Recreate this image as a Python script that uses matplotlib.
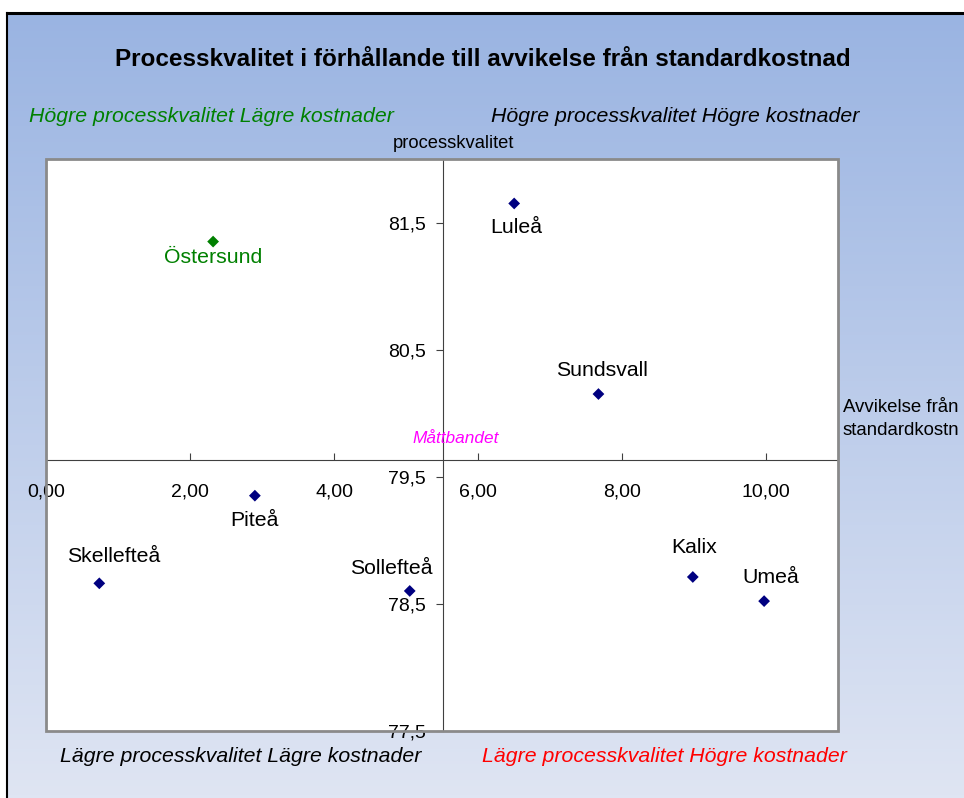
"""Quadrant scatter: process quality vs. deviation from standard cost."""
import matplotlib
matplotlib.use("Agg")
import matplotlib.pyplot as plt
import numpy as np
from matplotlib.colors import LinearSegmentedColormap
from matplotlib.patches import Rectangle

plt.rcParams["font.family"] = ["Liberation Sans", "DejaVu Sans"]

# data
cities = ["Östersund", "Luleå", "Sundsvall", "Piteå", "Skellefteå",
          "Sollefteå", "Kalix", "Umeå"]
cost_dev = [2.32, 6.50, 7.67, 2.90, 0.74, 5.05, 8.98, 9.97]
quality = [81.35, 81.65, 80.15, 79.35, 78.66, 78.60, 78.71, 78.52]
cross_x = 5.51   # Måttbandet (axis crossing)
cross_y = 79.63
x_ticks = [0, 2, 4, 6, 8, 10]
y_ticks = [77.5, 78.5, 79.5, 80.5, 81.5]

# label placement (pixel offsets from the marker)
label_off = {
    "Östersund": (0, -16), "Luleå": (2, -24), "Sundsvall": (4, 24),
    "Piteå": (0, -25), "Skellefteå": (14, 27), "Sollefteå": (-18, 22),
    "Kalix": (1, 29), "Umeå": (7, 24),
}

W, H = 964, 798
fig = plt.figure(figsize=(W / 100, H / 100), dpi=100)
fig.patch.set_facecolor("white")


def fx(px):
    return px / W


def fy(py):
    return 1 - py / H


# gradient chart area with black top/left border
bg = fig.add_axes([fx(7), 0, 1 - fx(7), fy(13)])
cmap = LinearSegmentedColormap.from_list("bg", ["#9ab4e2", "#dfe5f3"])
bg.imshow(np.linspace(0, 1, 256).reshape(-1, 1), aspect="auto", cmap=cmap,
          extent=[0, 1, 0, 1])
bg.set_xlim(0, 1)
bg.set_ylim(0, 1)
bg.set_axis_off()
fig.add_artist(plt.Line2D([fx(7), 1], [fy(13), fy(13)], color="black", lw=2.2))
fig.add_artist(plt.Line2D([fx(7), fx(7)], [0, fy(13)], color="black", lw=1.5))

ax = fig.add_axes([fx(46), fy(730.7), fx(838.3 - 46), (730.7 - 159) / H])
ax.set_facecolor("white")
ax.set_xlim(0, 11)
ax.set_ylim(77.5, 82.0)

for s in ("top", "right"):
    ax.spines[s].set_visible(False)
ax.spines["left"].set_position(("data", cross_x))
ax.spines["bottom"].set_position(("data", cross_y))
ax.spines["left"].set_color("#404040")
ax.spines["bottom"].set_color("#404040")
ax.add_patch(Rectangle((0, 0), 1, 1, transform=ax.transAxes, fill=False,
                       ec="#8a8a8a", lw=2, zorder=5, clip_on=False))

ax.set_xticks(x_ticks)
ax.set_xticklabels([f"{v:.2f}".replace(".", ",") for v in x_ticks])
ax.set_yticks(y_ticks)
ax.set_yticklabels([f"{v:.1f}".replace(".", ",") for v in y_ticks])
ax.tick_params(axis="x", direction="in", length=5, pad=17, labelsize=14,
               color="#404040")
ax.tick_params(axis="y", direction="out", length=5, pad=7, labelsize=14,
               color="#404040")

colors = ["#008000" if c == "Östersund" else "#000080" for c in cities]
ax.scatter(cost_dev, quality, marker="D", s=36, c=colors, zorder=6,
           linewidths=0)
for c, x, y, col in zip(cities, cost_dev, quality, colors):
    dx, dy = label_off[c]
    ax.annotate(c, (x, y), xytext=(dx, dy), textcoords="offset pixels",
                ha="center", va="center", fontsize=15.3,
                color="#008000" if c == "Östersund" else "black")

ax.annotate("Måttbandet", (cross_x, cross_y), xytext=(13, 22),
            textcoords="offset pixels", ha="center", va="center",
            fontsize=12.4, style="italic", color="#ff00ff")

fig.text(fx(483), fy(60), "Processkvalitet i förhållande till avvikelse från standardkostnad",
         ha="center", va="center", fontsize=17.5, fontweight="bold")
quad_fs = 15.3
fig.text(fx(211), fy(116), "Högre processkvalitet Lägre kostnader",
         ha="center", va="center", fontsize=quad_fs, style="italic", color="#008000")
fig.text(fx(675), fy(116), "Högre processkvalitet Högre kostnader",
         ha="center", va="center", fontsize=quad_fs, style="italic", color="black")
fig.text(fx(241), fy(757), "Lägre processkvalitet Lägre kostnader",
         ha="center", va="center", fontsize=quad_fs, style="italic", color="black")
fig.text(fx(664), fy(757), "Lägre processkvalitet Högre kostnader",
         ha="center", va="center", fontsize=quad_fs, style="italic", color="#ff0000")
fig.text(fx(453), fy(143), "processkvalitet", ha="center", va="center",
         fontsize=13.2)
fig.text(fx(901), fy(419), "Avvikelse från\nstandardkostn", ha="center",
         va="center", fontsize=13.4, linespacing=1.4)

fig.savefig("out.png", dpi=100)
